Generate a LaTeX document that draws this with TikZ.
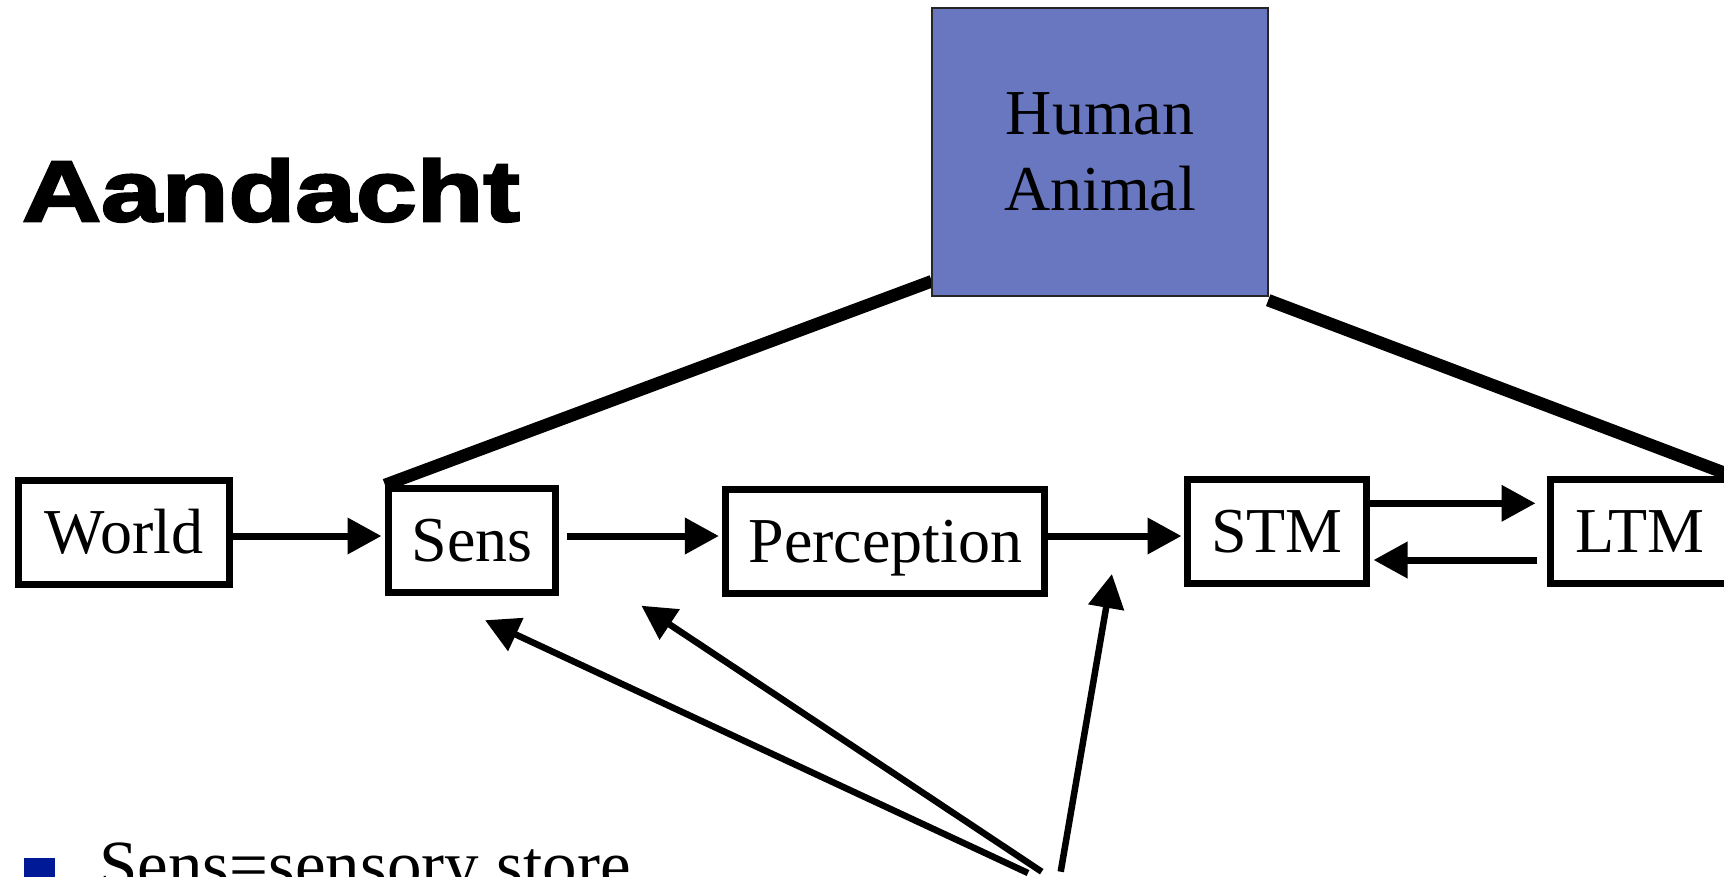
\documentclass[tikz,border=0pt]{standalone}
\usepackage{fontspec}
\setmainfont{Liberation Serif}
\newfontfamily\titlefont{Liberation Sans}[BoldFeatures={FakeStretch=1.27,FakeBold=3}]
\usetikzlibrary{arrows.meta}
\definecolor{boxblue}{RGB}{104,119,191}
\definecolor{bulletblue}{RGB}{0,25,150}

\begin{document}
\begin{tikzpicture}[x=1pt,y=-1pt,
  stage/.style={draw, line width=7pt, inner sep=0pt, minimum height=104pt,
    text height=42pt, text depth=0pt, font=\fontsize{64}{76}\selectfont},
  flow/.style={line width=7pt, -{Triangle[length=34pt,width=35pt]}},
  link/.style={line width=12.5pt},
  cue/.style={line width=6.5pt, -{Triangle[length=34pt,width=35pt]}}
]
\useasboundingbox (0,0) rectangle (1724,876);
\clip (0,0) rectangle (1724,876);
\fill[white] (0,0) rectangle (1724,876);

% title
\node[anchor=base west, inner sep=0pt,
  font=\titlefont\bfseries\fontsize{86}{100}\selectfont] (title) at (22,221) {Aandacht};

% processing stages
\node[stage, minimum width=211pt] (world) at (124,532.5) {World};
\node[stage, minimum width=167pt] (sens) at (472,540.5) {Sens};
\node[stage, minimum width=319pt] (perc) at (885.4,541) {Perception};
\node[stage, minimum width=179pt] (stm) at (1277,531.8) {STM};
\node[stage, minimum width=180pt] (ltm) at (1640,531.8) {LTM};

% the human/animal span over the stages
\path (1100,152) node[minimum width=336pt, minimum height=288pt, inner sep=0pt] (human) {};
\draw[link] ([yshift=15pt]human.south west) -- (sens.north west);
\draw[link] ([yshift=-4pt]human.south east) -- (ltm.north east);
\node[draw=black!85, line width=1.5pt, fill=boxblue, minimum width=336pt,
  minimum height=288pt, inner sep=0pt, align=center,
  font=\fontsize{64}{76}\selectfont] (humanbox) at (human) {Human\\Animal};

% flow between stages
\draw[flow, shorten >=3.5pt] ([yshift=-3.5pt]world.east) -- ([yshift=4.5pt]sens.west);
\draw[flow, shorten <=8pt, shorten >=3.5pt] ([yshift=4.5pt]sens.east) -- ([yshift=5pt]perc.west);
\draw[flow, shorten >=2.5pt] ([yshift=5pt]perc.east) -- ([yshift=-4.2pt]stm.west);
\draw[flow, shorten >=11pt] ([yshift=28.5pt]stm.east) -- ([yshift=28.5pt]ltm.west);
\draw[flow, shorten <=10pt, shorten >=3.5pt] ([yshift=-28.2pt]ltm.west) -- ([yshift=-28.2pt]stm.east);

% attention cues rising from below
\coordinate (cueA) at (1028,873);
\coordinate (cueB) at (1041.7,871.7);
\coordinate (cueC) at (1060.7,871.7);
\draw[cue] (cueA) -- ([xshift=13pt,yshift=-24.2pt]sens.south);
\draw[cue] (cueB) -- ([xshift=-81pt,yshift=-9.2pt]perc.south west);
\draw[cue] (cueC) -- ([xshift=63.5pt,yshift=22.5pt]perc.south east);

% bullet text
\node[fill=bulletblue, minimum size=31pt, inner sep=0pt, anchor=north west] (bullet) at (24,857.6) {};
\node[anchor=base west, inner sep=0pt, font=\fontsize{69}{80}\selectfont] (note) at (99,888) {Sens=sensory store};
\end{tikzpicture}
\end{document}
